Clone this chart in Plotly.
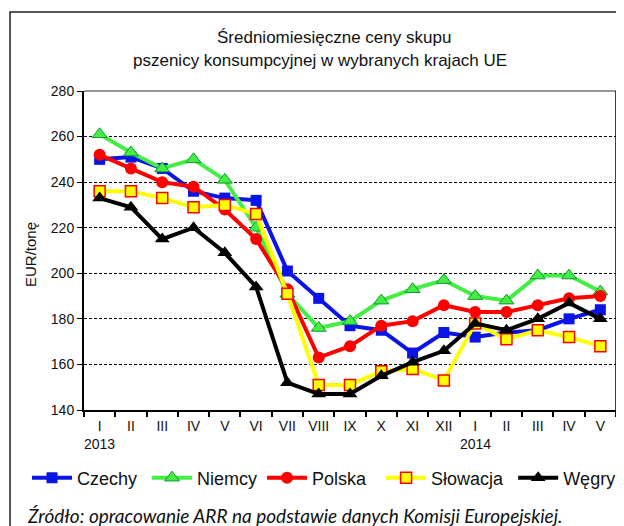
import plotly.graph_objects as go

months = ["I", "II", "III", "IV", "V", "VI", "VII", "VIII", "IX", "X", "XI", "XII",
          "I", "II", "III", "IV", "V"]
year_labels = [(0, "2013"), (12, "2014")]

czechy = [250, 251, 246, 236, 233, 232, 201, 189, 177, 175, 165, 174, 172, 174, 175, 180, 184]
niemcy = [261, 253, 246, 250, 241, 220, 191, 176, 179, 188, 193, 197, 190, 188, 199, 199, 192]
polska = [252, 246, 240, 238, 228, 215, 193, 163, 168, 177, 179, 186, 183, 183, 186, 189, 190]
slowacja = [236, 236, 233, 229, 230, 226, 191, 151, 151, 157, 158, 153, 178, 171, 175, 172, 168]
wegry = [233, 229, 215, 220, 209, 194, 152, 147, 147, 155, 161, 166, 178, 175, 180, 187, 180]

x = list(range(len(months)))

# the page body adds 8px, so the figure is drawn 8px smaller and shifted
W, H = 616, 518
L, R, T, B = 76, 8, 83, 116
PW, PH = W - L - R, H - T - B


def px(xp):
    return (xp - L) / PW


def py(yp):
    return (H - B - yp) / PH


NB = "\u00a0"  # padding so legend entries sit where the reference has them
series = [
    ("Czechy" + NB, czechy, "#0a14e6", dict(symbol="square", size=11, color="#0a14e6")),
    ("Niemcy", niemcy, "#44ee44", dict(symbol="triangle-up", size=13, color="#44ee44",
                                       line=dict(color="#119933", width=1))),
    ("Polska" + NB * 2, polska, "#ff0000", dict(symbol="circle", size=12, color="#ff0000")),
    ("Słowacja" + NB, slowacja, "#ffff00", dict(symbol="square", size=11, color="#ffff00",
                                               line=dict(color="#ff0000", width=1.5))),
    ("Węgry", wegry, "#000000", dict(symbol="triangle-up", size=13, color="#000000")),
]

fig = go.Figure()
for name, vals, col, mk in series:
    fig.add_trace(go.Scatter(x=x, y=vals, name=name, mode="lines+markers",
                             line=dict(color=col, width=4), marker=mk))

fig.update_layout(
    width=W, height=H,
    margin=dict(l=L, r=R, t=T, b=B),
    paper_bgcolor="white", plot_bgcolor="white",
    font=dict(family="Liberation Sans, Arial", size=14, color="#111"),
    showlegend=True,
    legend=dict(orientation="h", x=px(19), y=py(470), xanchor="left", yanchor="middle",
                font=dict(size=18, color="#111"), itemwidth=40, tracegroupgap=0),
)

fig.update_xaxes(
    range=[-0.5, 16.5], tickvals=x, ticktext=months,
    ticks="outside", ticklen=2, tickcolor="rgba(0,0,0,0)",
    showline=True, linecolor="black", linewidth=2, showgrid=False,
    zeroline=False, tickfont=dict(size=14),
    minor=dict(tickvals=[i + 0.5 for i in range(-1, 17)], ticks="outside", ticklen=5,
               tickcolor="black", tickwidth=1.5, showgrid=False),
)
fig.update_yaxes(
    range=[140, 280], dtick=20, ticks="outside", ticklen=5, tickcolor="black",
    showline=True, linecolor="black", linewidth=2, zeroline=False,
    showgrid=True, gridcolor="black", gridwidth=1, griddash="3px,2px",
    tickfont=dict(size=14),
)

for xi, yr in year_labels:
    fig.add_annotation(text=yr, x=xi, xref="x", y=py(436), yref="paper",
                       showarrow=False, xanchor="center", yanchor="middle",
                       font=dict(size=14, color="#111"))

fig.add_annotation(text="EUR/tonę", xref="paper", yref="paper", x=px(22), y=py(247),
                   textangle=-90, showarrow=False, xanchor="center", yanchor="middle",
                   font=dict(size=15, color="#111"))

# thin box on top and right of plot area
fig.add_shape(type="line", xref="paper", yref="paper", x0=0, x1=1, y0=1, y1=1,
              line=dict(color="#333", width=1))
fig.add_shape(type="line", xref="paper", yref="paper", x0=1, x1=1, y0=0, y1=1,
              line=dict(color="black", width=1.5))
# outer frame
fig.add_shape(type="rect", xref="paper", yref="paper",
              x0=px(2), x1=px(615), y0=py(530), y1=py(4),
              line=dict(color="#222", width=1.5))

fig.add_annotation(text="Średniomiesięczne ceny skupu", xref="paper", yref="paper",
                   x=px(326), y=py(30), xanchor="center", yanchor="middle",
                   showarrow=False, font=dict(size=17, color="#111"))
fig.add_annotation(text="pszenicy konsumpcyjnej w wybranych krajach UE", xref="paper",
                   yref="paper", x=px(312), y=py(53), xanchor="center", yanchor="middle",
                   showarrow=False, font=dict(size=17, color="#111"))
fig.add_annotation(text="<i>Źródło: opracowanie ARR na podstawie danych Komisji Europejskiej.</i>",
                   xref="paper", yref="paper", x=px(17), y=py(507),
                   xanchor="left", yanchor="middle", showarrow=False,
                   font=dict(family="Lato, Open Sans", size=19, color="#111"))

fig.write_html("out.html")
